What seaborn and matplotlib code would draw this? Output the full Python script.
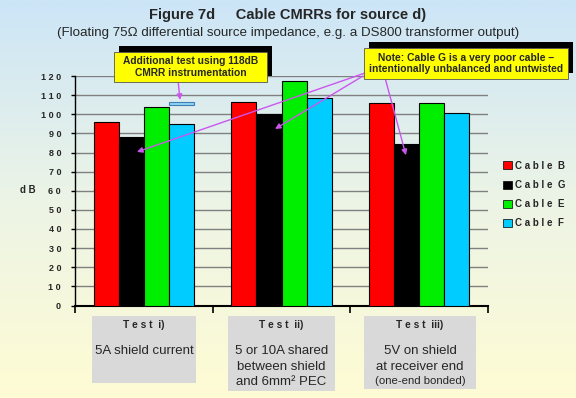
import matplotlib
matplotlib.use("Agg")
import matplotlib.pyplot as plt
import matplotlib.patches as mpatches
import numpy as np
import pandas as pd
import seaborn as sns

# --- data ---
tests = ["Test i)", "Test ii)", "Test iii)"]
cables = ["Cable B", "Cable G", "Cable E", "Cable F"]
cable_b = [96, 106.5, 106]
cable_g = [88, 100, 84.5]
cable_e = [104, 117.5, 106]
cable_f = [95, 108.5, 100.5]
extra_f_test_i = 105.5  # additional test using 118dB CMRR instrumentation
yticks = list(range(0, 121, 10))

test_notes = [
    ["5A shield current"],
    ["5 or 10A shared", "between shield", "and 6mm\u00b2 PEC"],
    ["5V on shield", "at receiver end"],
]
colors = {"Cable B": "#ff0000", "Cable G": "#000000",
          "Cable E": "#00ee00", "Cable F": "#00ccff"}

df = pd.DataFrame({
    "test": tests * 4,
    "cable": [c for c in cables for _ in tests],
    "cmrr": cable_b + cable_g + cable_e + cable_f,
})

W, H = 576, 398


def fx(x):
    return x / W


def fy(y):
    return 1 - y / H


def spaced(s):
    return " ".join(s)


sns.set_theme(style="white")
plt.rcParams["font.family"] = ["Liberation Sans", "DejaVu Sans"]

fig = plt.figure(figsize=(W / 100, H / 100), dpi=100)

# gradient background: light blue at top, pale yellow at bottom
bg = fig.add_axes([0, 0, 1, 1], zorder=-10)
top = np.array([204, 229, 247]) / 255
mid = np.array([236, 244, 230]) / 255
bot = np.array([255, 252, 212]) / 255
t = np.linspace(0, 1, 256)[:, None]
grad = np.where(t < 0.5, top + (mid - top) * (t / 0.5), mid + (bot - mid) * ((t - 0.5) / 0.5))
bg.imshow(grad[:, None, :], aspect="auto", extent=[0, 1, 0, 1])
bg.axis("off")

ax = fig.add_axes([fx(75), fy(305.5), (488 - 75) / W, (305.5 - 76) / H])
ax.set_facecolor("none")

sns.barplot(data=df, x="test", y="cmrr", hue="cable", hue_order=cables,
            order=tests, palette=colors, saturation=1, width=0.73,
            edgecolor="black", linewidth=0.8, legend=False, ax=ax, zorder=3)

# the small extra bar above Cable F in Test i)
ref = ax.containers[3][0]
ax.bar(ref.get_x() + ref.get_width() / 2, 1.6, bottom=extra_f_test_i - 0.8,
       width=ref.get_width(), color="#8fd3f4", edgecolor="#3f7fb5",
       linewidth=0.8, zorder=3)

ax.set_ylim(0, 120)
ax.set_xlim(-0.5, 2.5)
ax.set_yticks(yticks)
ax.set_yticklabels([spaced(str(v)) for v in yticks], fontsize=6.5, fontweight="bold")
ax.set_xticks([-0.5, 0.5, 1.5, 2.5])
ax.set_xticklabels([])
ax.set_xlabel("")
ax.set_ylabel("")
ax.yaxis.grid(True, color="#808080", linewidth=1)
ax.set_axisbelow(True)
for s in ["top", "right"]:
    ax.spines[s].set_visible(False)
ax.spines["left"].set_color("black")
ax.spines["left"].set_linewidth(1)
ax.spines["bottom"].set_color("black")
ax.spines["bottom"].set_linewidth(1.5)
ax.tick_params(axis="y", direction="out", length=3, width=1, color="black", pad=7, left=True)
ax.tick_params(axis="x", direction="out", length=5, width=1.2, color="black", bottom=True)

fig.text(fx(28), fy(190), "d B", fontsize=7, fontweight="bold", ha="center", va="center")

# titles
fig.text(0.5, fy(15), "Figure 7d     Cable CMRRs for source d)", ha="center", va="center",
         fontsize=10.5, fontweight="bold")
fig.text(fx(288), fy(33), "(Floating 75\u03a9 differential source impedance, e.g. a DS800 transformer output)",
         ha="center", va="center", fontsize=9.6)

# legend
handles = [mpatches.Patch(facecolor=colors[c], edgecolor="black", linewidth=0.5) for c in cables]
labels = ["C a b l e  " + c.split()[-1] for c in cables]
fig.legend(handles, labels, loc="upper left", bbox_to_anchor=(fx(494), fy(152)),
           frameon=False, handlelength=0.9, handleheight=0.9, handletextpad=0.4,
           labelspacing=0.95, prop={"weight": "bold", "size": 7})


# callout boxes with black shadows
def callout(x0, y0, x1, y1, text):
    fig.add_artist(mpatches.Rectangle((fx(x0 + 5), fy(y1 - 6)), (x1 - x0) / W, (y1 - y0) / H,
                                      transform=fig.transFigure, facecolor="black",
                                      edgecolor="none", zorder=5))
    fig.add_artist(mpatches.Rectangle((fx(x0), fy(y1)), (x1 - x0) / W, (y1 - y0) / H,
                                      transform=fig.transFigure, facecolor="#ffff00",
                                      edgecolor="#555555", linewidth=0.6, zorder=6))
    fig.text(fx((x0 + x1) / 2), fy((y0 + y1) / 2), text, ha="center", va="center",
             fontsize=7.4, fontweight="bold", linespacing=1.15, zorder=7)


arrow_kw = dict(arrowstyle="-|>", color="#cc55ee", lw=1, mutation_scale=8,
                shrinkA=0, shrinkB=0)
for tip, start in [((-0.05, 80.3), (365, 73)), ((0.953, 92.3), (363, 76)),
                   ((1.904, 78.6), (384, 74)), ((0.263, 107.5), (178, 80))]:
    ax.annotate("", xy=tip, xycoords="data", xytext=(fx(start[0]), fy(start[1])),
                textcoords="figure fraction", arrowprops=arrow_kw,
                annotation_clip=False, zorder=4)

callout(114, 52, 267, 82, "Additional test using 118dB\nCMRR instrumentation")
callout(364, 48, 568, 79, "Note: Cable G is a very poor cable \u2013\nintentionally unbalanced and untwisted")

# grey test description boxes under the groups
boxes = [(92, 196, 383), (228, 335, 391), (364, 476, 389)]
line_y = [351, 366.5, 382]
for (x0, x1, y1), name, note in zip(boxes, tests, test_notes):
    fig.add_artist(mpatches.Rectangle((fx(x0), fy(y1)), (x1 - x0) / W, (y1 - 316) / H,
                                      transform=fig.transFigure, facecolor="#d9d9d9",
                                      edgecolor="none", zorder=5))
    xc = fx((x0 + x1) / 2)
    word, num = name.split()
    fig.text(xc, fy(325), spaced(word) + "  " + num, ha="center",
             va="center", fontsize=7.3, fontweight="bold", zorder=6)
    for line, y in zip(note, line_y):
        fig.text(xc, fy(y), line, ha="center", va="center", fontsize=9.5, zorder=6)
fig.text(fx(420), fy(381.5), "(one-end bonded)", ha="center", va="center", fontsize=8.2, zorder=6)

fig.savefig("out.png", dpi=100)
plt.close(fig)
